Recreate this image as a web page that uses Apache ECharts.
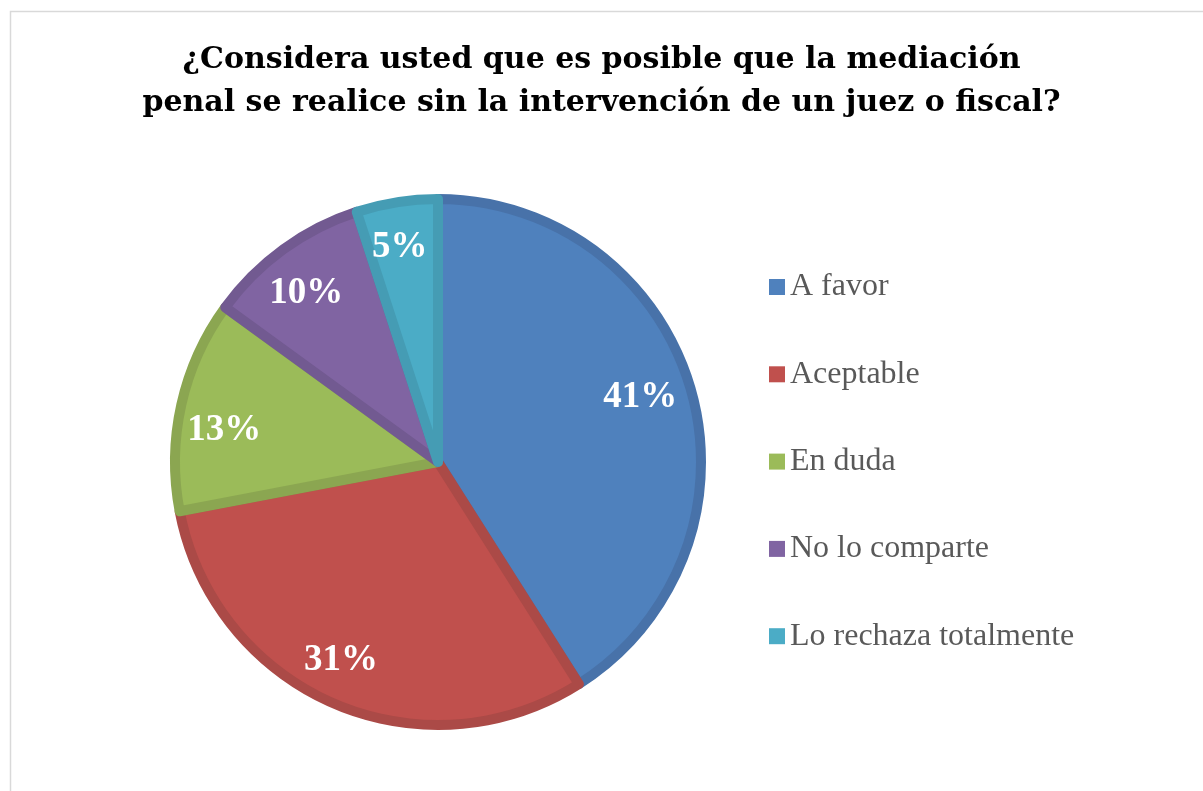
<!DOCTYPE html>
<html>
<head>
<meta charset="utf-8">
<script src="https://cdn.jsdelivr.net/npm/echarts@6/dist/echarts.min.js"></script>
<style>
  html, body { margin: 0; padding: 0; background: #fff; }
  #chart { width: 1203px; height: 791px; }
</style>
</head>
<body>
<div id="chart"></div>
<script>
const categories = ['A favor', 'Aceptable', 'En duda', 'No lo comparte', 'Lo rechaza totalmente']
const percents = [41, 31, 13, 10, 5]
const fillColors = ['#4f81bd', '#c0504d', '#9bbb59', '#8064a2', '#4bacc6']
const edgeColors = ['#4872a9', '#ab4a47', '#8ba651', '#725a91', '#459cb4']
// small nudges so the labels sit where the original placed them
const labelNudge = [[-8, -3], [-10, -3], [0, 16], [-3, 9], [-4, 2]]

const serif = '"Liberation Serif", "Times New Roman", serif'
const chart = echarts.init(document.getElementById('chart'))

const sliceData = categories.map((name, i) => ({
  name,
  value: percents[i],
  itemStyle: { color: fillColors[i], borderColor: edgeColors[i] },
}))

const labelData = categories.map((name, i) => ({ name, value: percents[i] }))

chart.setOption({
  animation: false,
  title: {
    text: '¿Considera usted que es posible que la mediación\npenal se realice sin la intervención de un juez o fiscal?',
    left: 'center',
    top: 34,
    textStyle: {
      fontFamily: '"DejaVu Serif", serif',
      fontSize: 30,
      fontWeight: 'bold',
      color: '#000',
      lineHeight: 43,
    },
  },
  legend: {
    orient: 'vertical',
    left: 769,
    top: 270,
    padding: 0,
    data: categories,
    itemWidth: 16,
    itemHeight: 16,
    itemGap: 53.3,
    icon: 'rect',
    selectedMode: false,
    itemStyle: { borderWidth: 0 },
    textStyle: { fontFamily: serif, fontSize: 32, color: '#595959', lineHeight: 34 },
  },
  graphic: [
    {
      type: 'rect',
      shape: { x: 10.5, y: 11.5, width: 1200, height: 800 },
      style: { fill: 'none', stroke: '#d9d9d9', lineWidth: 1.5 },
      silent: true,
    },
  ],
  series: [
    {
      name: 'slices',
      type: 'pie',
      center: [438, 462],
      radius: [0, 263],
      startAngle: 90,
      clockwise: true,
      label: { show: false },
      labelLine: { show: false },
      itemStyle: { borderWidth: 10 },
      emphasis: { disabled: true },
      data: sliceData,
    },
    {
      name: 'labels',
      type: 'pie',
      center: [438, 462],
      radius: [0, 432],
      startAngle: 90,
      clockwise: true,
      silent: true,
      legendHoverLink: false,
      itemStyle: { color: 'rgba(0,0,0,0)', borderWidth: 0 },
      label: {
        show: true,
        position: 'inside',
        formatter: '{c}%',
        color: '#fff',
        fontFamily: serif,
        fontWeight: 'bold',
        fontSize: 37,
      },
      labelLayout: (p) => ({ dx: labelNudge[p.dataIndex][0], dy: labelNudge[p.dataIndex][1] }),
      labelLine: { show: false },
      emphasis: { disabled: true },
      data: labelData,
    },
  ],
})
</script>
</body>
</html>
